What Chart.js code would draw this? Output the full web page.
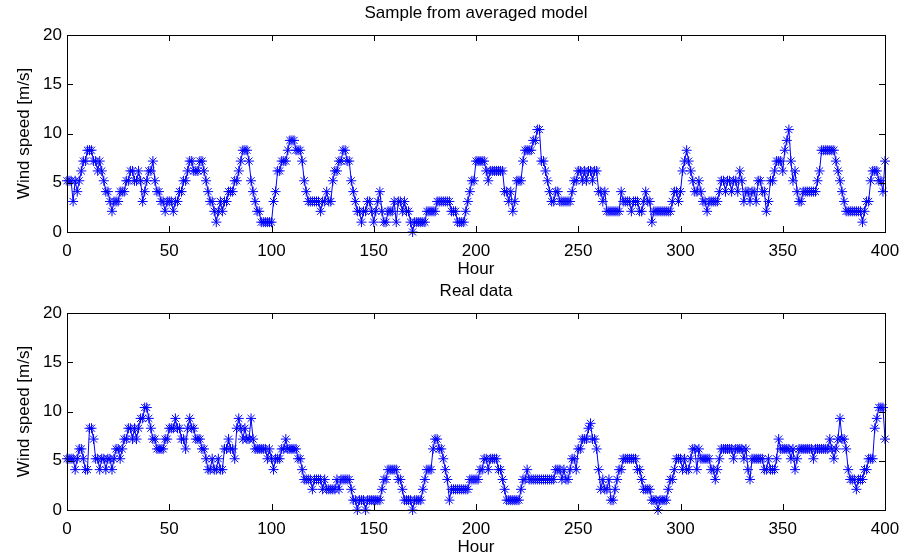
<!DOCTYPE html>
<html>
<head>
<meta charset="utf-8">
<title>Wind speed</title>
<script src="https://cdn.jsdelivr.net/npm/chart.js@4.4.1/dist/chart.umd.min.js"></script>
<style>
    body { margin: 0; background: #fff; }
    .panel { position: absolute; left: 0; width: 909px; }
</style>
</head>
<body>
<div class="panel" style="top:0;height:280px"><canvas id="modelChart"></canvas></div>
<div class="panel" style="top:278px;height:281px"><canvas id="realChart"></canvas></div>
<script>
// Wind speed [m/s] per hour, hours 0..400
const modelSpeed = [
    5.2,5.2,5.2,3.1,5.2,4.1,5.2,6.2,7.2,7.2,
    8.3,8.3,8.3,7.2,7.2,6.2,7.2,6.2,5.2,4.1,
    4.1,3.1,2.1,3.1,3.1,3.1,4.1,4.1,4.1,5.2,
    5.2,6.2,6.2,5.2,5.2,6.2,5.2,3.1,4.1,5.2,
    6.2,6.2,7.2,5.2,4.1,4.1,3.1,3.1,2.1,3.1,
    3.1,3.1,2.1,3.1,3.1,4.1,4.1,5.2,5.2,6.2,
    7.2,7.2,6.2,6.2,6.2,7.2,7.2,6.2,5.2,4.1,
    3.1,3.1,2.1,1.0,2.1,3.1,2.1,3.1,3.1,4.1,
    4.1,4.1,5.2,5.2,6.2,7.2,8.3,8.3,8.3,7.2,
    5.2,4.1,3.1,2.1,2.1,1.0,1.0,1.0,1.0,1.0,
    1.0,3.1,4.1,6.2,6.2,7.2,7.2,7.2,8.3,9.3,
    9.3,9.3,8.3,8.3,8.3,7.2,5.2,4.1,3.1,3.1,
    3.1,3.1,3.1,3.1,2.1,3.1,3.1,4.1,3.1,3.1,
    5.2,6.2,6.2,7.2,7.2,8.3,8.3,7.2,7.2,5.2,
    4.1,3.1,2.1,2.1,1.0,2.1,2.1,3.1,3.1,2.1,
    1.0,2.1,3.1,4.1,2.1,1.0,1.0,2.1,2.1,2.1,
    3.1,1.0,3.1,3.1,2.1,3.1,2.1,2.1,1.0,0,
    1.0,1.0,1.0,1.0,1.0,1.0,2.1,2.1,2.1,2.1,
    2.1,3.1,3.1,3.1,3.1,3.1,3.1,3.1,2.1,2.1,
    2.1,1.0,1.0,1.0,1.0,2.1,3.1,4.1,5.2,5.2,
    7.2,7.2,7.2,7.2,7.2,6.2,5.2,6.2,6.2,6.2,
    6.2,6.2,6.2,6.2,4.1,4.1,3.1,4.1,2.1,3.1,
    5.2,5.2,5.2,7.2,8.3,8.3,8.3,8.3,9.3,9.3,
    10.4,10.4,7.2,7.2,6.2,5.2,4.1,3.1,3.1,4.1,
    4.1,3.1,3.1,3.1,3.1,3.1,3.1,4.1,5.2,5.2,
    6.2,6.2,5.2,6.2,5.2,6.2,6.2,5.2,6.2,6.2,
    4.1,4.1,3.1,4.1,2.1,2.1,2.1,2.1,2.1,2.1,
    2.1,4.1,3.1,3.1,3.1,3.1,2.1,3.1,3.1,3.1,
    2.1,2.1,3.1,4.1,3.1,3.1,1.0,2.1,2.1,2.1,
    2.1,2.1,2.1,2.1,2.1,2.1,3.1,4.1,4.1,3.1,
    4.1,6.2,7.2,8.3,7.2,6.2,5.2,4.1,4.1,5.2,
    4.1,3.1,3.1,2.1,3.1,3.1,3.1,3.1,3.1,4.1,
    5.2,5.2,4.1,5.2,5.2,4.1,5.2,5.2,4.1,6.2,
    5.2,3.1,4.1,4.1,3.1,4.1,4.1,3.1,5.2,5.2,
    4.1,4.1,2.1,3.1,5.2,5.2,6.2,7.2,7.2,7.2,
    6.2,8.3,9.3,10.4,7.2,5.2,6.2,4.1,3.1,3.1,
    4.1,4.1,4.1,4.1,4.1,4.1,4.1,5.2,6.2,8.3,
    8.3,8.3,8.3,8.3,8.3,8.3,7.2,6.2,5.2,4.1,
    3.1,2.1,2.1,2.1,2.1,2.1,2.1,2.1,2.1,1.0,
    2.1,3.1,3.1,5.2,6.2,6.2,6.2,5.2,5.2,4.1,
    7.2
];

const realSpeed = [
    5.2,5.2,5.2,5.2,4.1,5.2,6.2,6.2,5.2,4.1,
    4.1,8.3,8.3,7.2,5.2,5.2,4.1,5.2,5.2,4.1,
    5.2,5.2,4.1,5.2,6.2,6.2,5.2,6.2,7.2,7.2,
    8.3,8.3,7.2,8.3,7.2,8.3,9.3,9.3,10.4,10.4,
    9.3,8.3,7.2,7.2,6.2,6.2,6.2,6.2,7.2,7.2,
    8.3,8.3,8.3,9.3,8.3,8.3,7.2,7.2,6.2,8.3,
    9.3,8.3,8.3,7.2,7.2,7.2,6.2,6.2,5.2,4.1,
    4.1,5.2,4.1,4.1,5.2,4.1,4.1,6.2,6.2,7.2,
    6.2,6.2,5.2,8.3,9.3,8.3,7.2,8.3,7.2,7.2,
    9.3,7.2,6.2,6.2,6.2,6.2,6.2,6.2,5.2,6.2,
    5.2,4.1,5.2,5.2,5.2,6.2,6.2,7.2,6.2,6.2,
    6.2,6.2,6.2,5.2,5.2,4.1,3.1,3.1,3.1,3.1,
    2.1,3.1,3.1,3.1,3.1,2.1,3.1,2.1,2.1,2.1,
    2.1,2.1,3.1,2.1,3.1,3.1,3.1,3.1,3.1,2.1,
    1.0,1.0,0,1.0,1.0,1.0,0,1.0,1.0,1.0,
    1.0,1.0,1.0,1.0,2.1,3.1,3.1,4.1,4.1,4.1,
    4.1,4.1,3.1,3.1,2.1,1.0,1.0,1.0,1.0,0,
    1.0,1.0,1.0,1.0,2.1,3.1,4.1,4.1,4.1,6.2,
    7.2,7.2,6.2,6.2,5.2,4.1,3.1,1.0,2.1,2.1,
    2.1,2.1,2.1,2.1,2.1,2.1,2.1,3.1,3.1,3.1,
    3.1,3.1,4.1,4.1,5.2,5.2,4.1,5.2,5.2,5.2,
    5.2,4.1,4.1,3.1,2.1,1.0,1.0,1.0,1.0,1.0,
    1.0,1.0,2.1,3.1,3.1,4.1,3.1,3.1,3.1,3.1,
    3.1,3.1,3.1,3.1,3.1,3.1,3.1,3.1,3.1,4.1,
    4.1,4.1,3.1,4.1,3.1,3.1,4.1,5.2,5.2,4.1,
    6.2,6.2,7.2,7.2,7.2,8.3,8.8,7.2,7.2,6.2,
    4.1,2.1,3.1,2.1,2.1,3.1,1.0,1.0,2.1,3.1,
    4.1,4.1,5.2,5.2,5.2,5.2,5.2,5.2,5.2,4.1,
    4.1,3.1,2.1,2.1,2.1,2.1,1.0,1.0,1.0,0,
    1.0,1.0,1.0,1.0,2.1,3.1,3.1,4.1,5.2,5.2,
    5.2,4.1,5.2,4.1,4.1,5.2,6.2,6.2,4.1,6.2,
    5.2,5.2,5.2,5.2,5.2,4.1,4.1,3.1,4.1,5.2,
    6.2,6.2,6.2,6.2,6.2,6.2,5.2,6.2,6.2,6.2,
    6.2,5.2,6.2,4.1,3.1,5.2,5.2,5.2,5.2,5.2,
    5.2,4.1,4.1,5.2,4.1,4.1,4.1,5.2,7.2,6.2,
    6.2,6.2,6.2,6.2,5.2,6.2,4.1,5.2,6.2,6.2,
    6.2,6.2,6.2,6.2,6.2,5.2,6.2,6.2,6.2,6.2,
    6.2,6.2,6.2,7.2,6.2,5.2,6.2,7.2,9.3,7.2,
    7.2,6.2,4.1,3.1,3.1,3.1,2.1,3.1,3.1,3.1,
    4.1,4.1,5.2,5.2,5.2,8.3,9.3,10.4,10.4,10.4,
    7.2
];

const xTicks = [0, 50, 100, 150, 200, 250, 300, 350, 400];
const yTicks = [0, 5, 10, 15, 20];
const titles = ["Sample from averaged model", "Real data"];

const FONT = "'Liberation Sans', Arial, Helvetica, sans-serif";

// matlab style box with inward ticks and a title above the axes
const matlabAxes = {
    id: "matlabAxes",
    afterDatasetsDraw(chart, args, opts) {
        const { ctx, chartArea: a, scales: { x, y } } = chart;
        ctx.save();
        ctx.strokeStyle = "#000";
        ctx.lineWidth = 1;
        ctx.strokeRect(a.left + 0.5, a.top + 0.5, a.right - a.left, a.bottom - a.top);
        ctx.beginPath();
        xTicks.forEach((t) => {
            const px = Math.round(x.getPixelForValue(t)) + 0.5;
            ctx.moveTo(px, a.bottom);
            ctx.lineTo(px, a.bottom - 6);
            ctx.moveTo(px, a.top);
            ctx.lineTo(px, a.top + 6);
        });
        yTicks.forEach((t) => {
            const py = Math.round(y.getPixelForValue(t)) + 0.5;
            ctx.moveTo(a.left, py);
            ctx.lineTo(a.left + 6, py);
            ctx.moveTo(a.right, py);
            ctx.lineTo(a.right - 6, py);
        });
        ctx.stroke();
        ctx.fillStyle = "#000";
        ctx.font = "17px " + FONT;
        ctx.textAlign = "center";
        ctx.textBaseline = "middle";
        ctx.fillText(opts.text, (a.left + a.right) / 2, opts.y);
        ctx.restore();
    },
};

function makeChart(id, values, title, axisHeight) {
    const ctx = document.getElementById(id).getContext("2d");
    return new Chart(ctx, {
        type: "line",
        data: {
            datasets: [
                {
                    data: values.map((v, i) => ({ x: i, y: v })),
                    borderColor: "#0000ff",
                    backgroundColor: "#0000ff",
                    borderWidth: 1,
                    pointStyle: "star",
                    pointRadius: 5,
                    pointBorderWidth: 1,
                    pointBorderColor: "#0000ff",
                    tension: 0,
                    clip: false,
                },
            ],
        },
        options: {
            responsive: true,
            maintainAspectRatio: false,
            animation: false,
            layout: { padding: { left: 0, top: 35, right: 24, bottom: 0 } },
            plugins: {
                legend: { display: false },
                tooltip: { enabled: false },
                matlabAxes: { text: title, y: 13 },
            },
            scales: {
                x: {
                    type: "linear",
                    min: 0,
                    max: 400,
                    afterFit: (s) => { s.height = axisHeight; },
                    afterBuildTicks: (s) => { s.ticks = xTicks.map((v) => ({ value: v })); },
                    grid: { display: false, drawTicks: false },
                    border: { display: false },
                    ticks: { color: "#000", padding: 9, maxRotation: 0, font: { family: FONT, size: 17 } },
                    title: {
                        display: true,
                        text: "Hour",
                        color: "#000",
                        padding: { top: 0, bottom: axisHeight - 48 },
                        font: { family: FONT, size: 17 },
                    },
                },
                y: {
                    min: 0,
                    max: 20,
                    afterFit: (s) => { s.width = 67; },
                    afterBuildTicks: (s) => { s.ticks = yTicks.map((v) => ({ value: v })); },
                    grid: { display: false, drawTicks: false },
                    border: { display: false },
                    ticks: { color: "#000", padding: 5, font: { family: FONT, size: 17 } },
                    title: {
                        display: true,
                        text: "Wind speed [m/s]",
                        color: "#000",
                        padding: { top: 14, bottom: 0 },
                        font: { family: FONT, size: 17 },
                    },
                },
            },
        },
        plugins: [matlabAxes],
    });
}

document.addEventListener("DOMContentLoaded", () => {
    makeChart("modelChart", modelSpeed, titles[0], 48);
    makeChart("realChart", realSpeed, titles[1], 49);
});
</script>
</body>
</html>
